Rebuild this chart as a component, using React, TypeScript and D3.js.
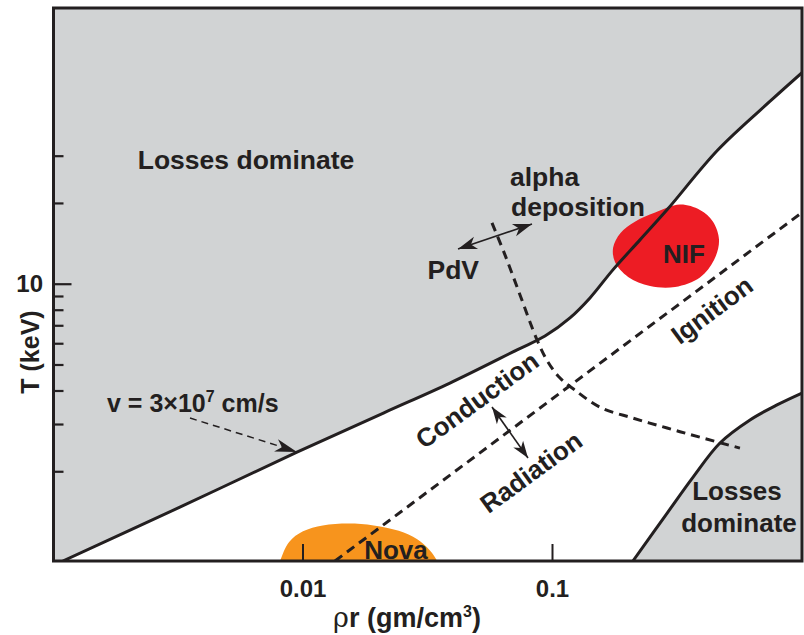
import React from "react";
import * as d3 from "d3";

// ---- axis ticks ----
const xTickValues = [0.01, 0.1];
const xTickLabels = ["0.01", "0.1"];
const yMajorTickValues = [10];
const yMajorTickLabels = ["10"];
const yMinorTickValues = [2, 3, 4, 5, 6, 7, 8, 9, 20, 30];

// ---- upper boundary (v = 3x10^7 cm/s, losses dominate above) ----
const upperRho = [0.00109, 0.00321, 0.00946, 0.021, 0.0388, 0.0721, 0.0933, 0.1175, 0.1413, 0.1746, 0.2242, 0.2877, 0.4607, 0.757, 1.0];
const upperT = [0.93, 1.476, 2.367, 3.31, 4.28, 5.69, 6.41, 7.49, 8.89, 11.31, 14.63, 18.93, 31.7, 48.7, 61.4];

// ---- lower-right boundary (losses dominate) ----
const lowerRho = [0.21, 0.2877, 0.366, 0.469, 0.619, 0.794, 1.0];
const lowerT = [0.93, 1.4, 1.91, 2.56, 3.12, 3.55, 3.93];

// ---- ignition line ----
const ignitionRho = [0.01343, 1.0];
const ignitionT = [0.93, 18.5];

// ---- alpha deposition / PdV / conduction / radiation boundary ----
const alphaRho = [0.0572, 0.0645, 0.0741, 0.0867, 0.0959, 0.1072, 0.123, 0.155, 0.21, 0.288, 0.39, 0.564];
const alphaT = [16.93, 12.86, 9.12, 6.2, 5.13, 4.47, 4.03, 3.48, 3.17, 2.91, 2.69, 2.45];

// ---- NIF region ----
const nifRho = [0.324, 0.39, 0.44, 0.465, 0.444, 0.39, 0.31, 0.246, 0.201, 0.178, 0.175, 0.187, 0.214, 0.258];
const nifT = [19.8, 18.9, 17.1, 14.6, 12.3, 10.6, 9.77, 9.85, 10.65, 12.1, 13.7, 15.5, 17.1, 18.5];

// ---- Nova region ----
const novaRho = [0.0079, 0.0081, 0.0088, 0.0100, 0.0120, 0.0152, 0.0192, 0.0242, 0.0287, 0.0322, 0.0345, 0.036];
const novaT = [0.85, 0.93, 1.095, 1.2, 1.262, 1.282, 1.262, 1.205, 1.12, 1.02, 0.93, 0.85];

const INK = "#231f20";
const GRAY = "#d1d3d4";
const FONT = "'Liberation Sans', Arial, Helvetica, sans-serif";

const L = 53.5, R = 802, T0 = 8, B = 561;

function zip(a: number[], b: number[]): [number, number][] {
  return a.map((v, i) => [v, b[i]]);
}

function ArrowHead({ x1, y1, x2, y2, len = 20, hw = 6.5 }: any) {
  const ang = (Math.atan2(y2 - y1, x2 - x1) * 180) / Math.PI;
  return (
    <path
      d={`M0,0 L${-len},${-hw} L${-len * 0.72},0 L${-len},${hw} Z`}
      transform={`translate(${x2},${y2}) rotate(${ang})`}
      fill={INK}
    />
  );
}

function DoubleArrow({ x1, y1, x2, y2, len = 19, hw = 6.5 }: any) {
  return (
    <g>
      <line x1={x1} y1={y1} x2={x2} y2={y2} stroke={INK} strokeWidth={1.6} />
      <ArrowHead x1={x1} y1={y1} x2={x2} y2={y2} len={len} hw={hw} />
      <ArrowHead x1={x2} y1={y2} x2={x1} y2={y1} len={len} hw={hw} />
    </g>
  );
}

export default function App() {
  const x = d3.scaleLog().domain([0.001, 1]).range([L, R]);
  const y = d3.scaleLog().domain([0.93, 107]).range([B, T0]);

  const line = d3
    .line<[number, number]>()
    .x((d) => x(d[0]))
    .y((d) => y(d[1]))
    .curve(d3.curveCatmullRom.alpha(0.5));

  const closed = d3
    .line<[number, number]>()
    .x((d) => x(d[0]))
    .y((d) => y(d[1]))
    .curve(d3.curveCatmullRomClosed.alpha(0.5));

  const upperPts = zip(upperRho, upperT);
  const lowerPts = zip(lowerRho, lowerT);
  const upperPath = line(upperPts) || "";
  const lowerPath = line(lowerPts) || "";
  const upperRegion = `${upperPath} L${R},${T0} L${L},${T0} L${L},${B} Z`;
  const lowerRegion = `${lowerPath} L${R},${B} Z`;

  const straight = d3
    .line<[number, number]>()
    .x((d) => x(d[0]))
    .y((d) => y(d[1]));

  const textStyle: any = { fontFamily: FONT, fontWeight: "bold", fill: INK };

  return (
    <svg
      width={804}
      height={635}
      style={{ position: "absolute", left: 0, top: 0, background: "#fff" }}
    >
      <defs>
        <clipPath id="plotClip">
          <rect x={L} y={T0} width={R - L} height={B - T0} />
        </clipPath>
      </defs>

      <g clipPath="url(#plotClip)">
        <path d={upperRegion} fill={GRAY} />
        <path d={lowerRegion} fill={GRAY} />
        <path d={closed(zip(novaRho, novaT)) || ""} fill="#f7941d" />
        <path d={closed(zip(nifRho, nifT)) || ""} fill="#ed1c24" />
        <path
          d={straight(zip(ignitionRho, ignitionT)) || ""}
          fill="none"
          stroke={INK}
          strokeWidth={3}
          strokeDasharray="9,6"
        />
        <path
          d={line(zip(alphaRho, alphaT)) || ""}
          fill="none"
          stroke={INK}
          strokeWidth={3}
          strokeDasharray="9,6"
        />
        <path d={upperPath} fill="none" stroke={INK} strokeWidth={3} />
        <path d={lowerPath} fill="none" stroke={INK} strokeWidth={3} />
      </g>

      {/* velocity annotation arrow */}
      <line x1={190} y1={418} x2={282} y2={447} stroke={INK} strokeWidth={1.5} strokeDasharray="7,5" />
      <ArrowHead x1={190} y1={418} x2={297} y2={452} len={22} hw={6.5} />

      <DoubleArrow x1={458} y1={249} x2={532} y2={224} />
      <DoubleArrow x1={492} y1={407} x2={528} y2={458} len={17} hw={6} />

      {/* labels */}
      <text x={246} y={169} textAnchor="middle" fontSize={26.5} {...textStyle}>Losses dominate</text>
      <text x={510} y={186} fontSize={26.5} {...textStyle}>alpha</text>
      <text x={511} y={216} fontSize={26.5} {...textStyle}>deposition</text>
      <text x={479} y={279} textAnchor="end" fontSize={26.5} {...textStyle}>PdV</text>
      <text x={684} y={263} textAnchor="middle" fontSize={26} {...textStyle}>NIF</text>
      <text x={396} y={559} textAnchor="middle" fontSize={26} {...textStyle}>Nova</text>
      <text x={737} y={500} textAnchor="middle" fontSize={26} {...textStyle}>Losses</text>
      <text x={739} y={532} textAnchor="middle" fontSize={26} {...textStyle}>dominate</text>
      <text transform="translate(712,310) rotate(-36.6)" textAnchor="middle" dy="0.35em" fontSize={26} {...textStyle}>Ignition</text>
      <text transform="translate(477,400) rotate(-36)" textAnchor="middle" dy="0.35em" fontSize={26} {...textStyle}>Conduction</text>
      <text transform="translate(531,472) rotate(-36)" textAnchor="middle" dy="0.35em" fontSize={26} {...textStyle}>Radiation</text>
      <text x={107} y={412} fontSize={25} {...textStyle}>
        v = 3×10
        <tspan dy={-10} fontSize={16}>7</tspan>
        <tspan dy={10}> cm/s</tspan>
      </text>

      {/* frame */}
      <rect x={L} y={T0} width={R - L} height={B - T0} fill="none" stroke={INK} strokeWidth={3} />

      {/* y ticks */}
      {yMinorTickValues.map((v) => (
        <line key={"ym" + v} x1={L} x2={L + 10} y1={y(v)} y2={y(v)} stroke={INK} strokeWidth={2.2} />
      ))}
      {yMajorTickValues.map((v, i) => (
        <g key={"yM" + v}>
          <line x1={L} x2={L + 18} y1={y(v)} y2={y(v)} stroke={INK} strokeWidth={2.2} />
          <text x={43} y={y(v) + 8} textAnchor="end" fontSize={24} {...textStyle}>{yMajorTickLabels[i]}</text>
        </g>
      ))}
      {/* x ticks */}
      {xTickValues.map((v, i) => (
        <g key={"x" + v}>
          <line x1={x(v)} x2={x(v)} y1={B} y2={B - 17} stroke={INK} strokeWidth={2} />
          <text x={x(v)} y={597} textAnchor="middle" fontSize={24} {...textStyle}>{xTickLabels[i]}</text>
        </g>
      ))}

      {/* axis titles */}
      <text x={407} y={627} textAnchor="middle" fontSize={27} {...textStyle}>
        <tspan fontWeight="normal" fontFamily="'DejaVu Serif', serif">ρ</tspan>r (gm/cm
        <tspan dy={-10} fontSize={16}>3</tspan>
        <tspan dy={10}>)</tspan>
      </text>
      <text transform="translate(39,352) rotate(-90)" textAnchor="middle" fontSize={25} {...textStyle}>T (keV)</text>
    </svg>
  );
}
